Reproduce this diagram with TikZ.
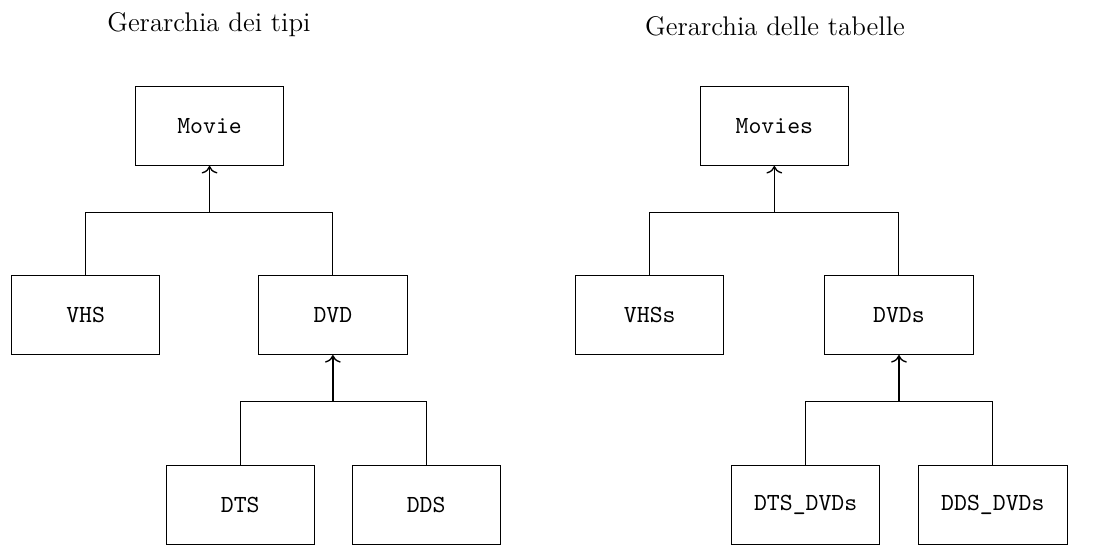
\documentclass[tikz,border=0pt]{standalone}
\usepackage{tikz}
\usetikzlibrary{arrows.meta}

\begin{document}
\begin{tikzpicture}[align=center]

\useasboundingbox (0, 0) rectangle (17.17, -8.53);

\tikzstyle{title}=[
	font=\large,
	anchor=base
]
\tikzstyle{box}=[
	rectangle,
	draw=black,
	minimum width=2.32cm,
	minimum height=1.24cm,
	font=\fontsize{10.95}{13}\selectfont\ttfamily
]
\tikzstyle{arr}=[-{To[scale=1.15]}, semithick]

% Gerarchia dei tipi
\node[title] (ttipi) at (3.27, -0.50) {Gerarchia dei tipi};

\node[box] (movie) at (3.28, -1.97) {Movie};
\node[box] (vhs) at (1.34, -4.93) {VHS};
\node[box] (dvd) at (5.21, -4.93) {DVD};
\node[box] (dts) at (3.76, -7.90) {DTS};
\node[box] (dds) at (6.67, -7.90) {DDS};

\coordinate (jmovie) at (3.28, -3.32);
\coordinate (jdvd) at (5.21, -6.29);

\draw (vhs.north) |- (jmovie) -| (dvd.north);
\draw[arr] (jmovie) -- (movie.south);
\draw (dts.north) |- (jdvd) -| (dds.north);
\draw[arr] (jdvd) -- (dvd.south);

% Gerarchia delle tabelle
\node[title] (ttab) at (12.13, -0.56) {Gerarchia delle tabelle};

\node[box] (movies) at (12.12, -1.97) {Movies};
\node[box] (vhss) at (10.17, -4.93) {VHSs};
\node[box] (dvds) at (14.07, -4.93) {DVDs};
\node[box] (dtsdvds) at (12.61, -7.90) {DTS\_DVDs};
\node[box] (ddsdvds) at (15.54, -7.90) {DDS\_DVDs};

\coordinate (jmovies) at (12.12, -3.32);
\coordinate (jdvds) at (14.07, -6.29);

\draw (vhss.north) |- (jmovies) -| (dvds.north);
\draw[arr] (jmovies) -- (movies.south);
\draw (dtsdvds.north) |- (jdvds) -| (ddsdvds.north);
\draw[arr] (jdvds) -- (dvds.south);

\end{tikzpicture}
\end{document}
